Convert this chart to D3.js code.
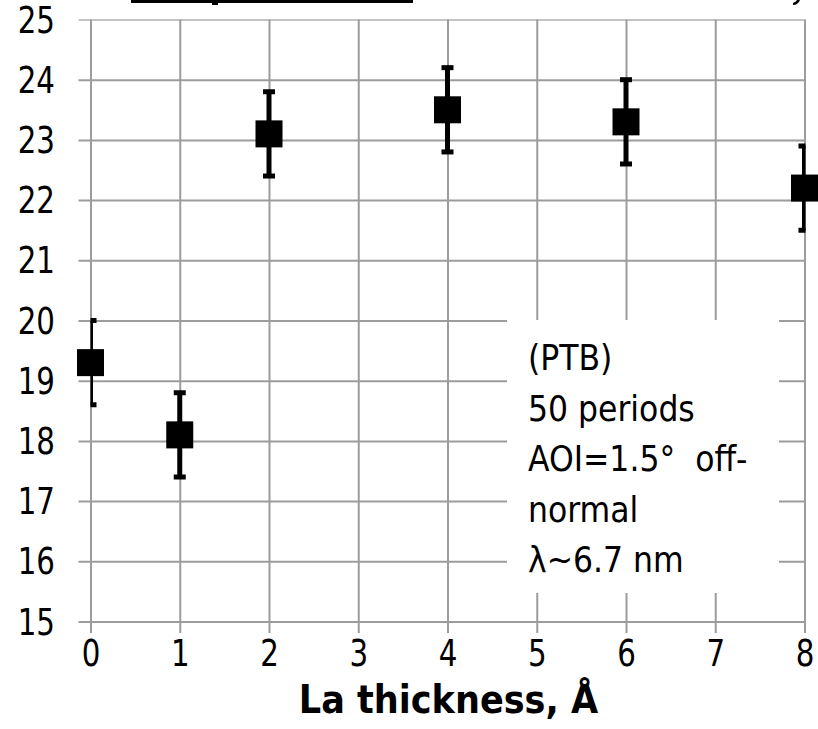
<!DOCTYPE html>
<html>
<head>
<meta charset="utf-8">
<script src="https://cdn.jsdelivr.net/npm/d3@7"></script>
<style>
  html, body { margin: 0; padding: 0; background: #fff; }
  svg { display: block; }
  text { font-family: "DejaVu Sans Condensed", "DejaVu Sans", sans-serif; fill: #000; }
</style>
</head>
<body>
<svg id="chart" width="818" height="729"></svg>
<script>
// La thickness (Å) of each sample and its measured value with uncertainty
const thickness = [0, 1, 2, 4, 6, 8];
const values    = [19.3, 18.1, 23.1, 23.5, 23.3, 22.2];
const errors    = [0.7, 0.7, 0.7, 0.7, 0.7, 0.7];

const xTickValues = [0, 1, 2, 3, 4, 5, 6, 7, 8];
const yTickValues = [15, 16, 17, 18, 19, 20, 21, 22, 23, 24, 25];

const xTitle = "La thickness, Å";
const noteLines = ["(PTB)", "50 periods", "AOI=1.5°  off-", "normal", "λ~6.7 nm"];

const svg = d3.select("#chart");

const plotLeft = 90.5, plotRight = 804.5, plotTop = 19.5, plotBottom = 621.5;
const x = d3.scaleLinear().domain([0, 8]).range([plotLeft, plotRight]);
const y = d3.scaleLinear().domain([15, 25]).range([plotBottom, plotTop]);

const grid = "#9c9c9c";
const tickFont = 37, tickSquash = 0.88;
const fontFamily = '"DejaVu Sans Condensed", "DejaVu Sans", sans-serif';

// Title underline remnant at the very top
const head = svg.append("g").attr("fill", "#000");
head.append("rect").attr("x", 131).attr("y", 0).attr("width", 282).attr("height", 3);
head.append("rect").attr("x", 212).attr("y", 0).attr("width", 6).attr("height", 5);
head.append("path").attr("d", "M800,0 Q798,5 793,5 L793,3 Q796,2 797,0 Z");

// Horizontal gridlines with left ticks and labels
const yPad = 23.5;
const yAxis = svg.append("g")
  .attr("transform", `translate(${plotLeft - 12},0)`)
  .call(d3.axisLeft(y).tickValues(yTickValues).tickFormat(d3.format("d"))
    .tickSizeInner(-(plotRight - plotLeft + 12)).tickSizeOuter(0).tickPadding(yPad));
yAxis.select(".domain").remove();
yAxis.selectAll(".tick line").attr("stroke", d => d === 25 ? "#c4c4c4" : grid).attr("stroke-width", 2);
yAxis.selectAll(".tick text")
  .attr("font-size", tickFont).attr("dy", "0.34em")
  .attr("x", -yPad / tickSquash)
  .attr("transform", `scale(${tickSquash},1)`)
  .attr("fill", "#000").style("font-family", fontFamily);

// Vertical gridlines with bottom ticks and labels
const xAxis = svg.append("g")
  .attr("transform", `translate(0,${plotBottom + 11.5})`)
  .call(d3.axisBottom(x).tickValues(xTickValues).tickFormat(d3.format("d"))
    .tickSizeInner(-(plotBottom + 11.5 - plotTop)).tickSizeOuter(0).tickPadding(7));
xAxis.select(".domain").remove();
xAxis.selectAll(".tick line").attr("stroke", grid).attr("stroke-width", 2);
xAxis.selectAll(".tick text")
  .attr("font-size", tickFont)
  .attr("transform", `scale(${tickSquash},1)`)
  .attr("fill", "#000").style("font-family", fontFamily);

// Note box
const note = svg.append("g");
note.append("rect").attr("x", 507).attr("y", 320).attr("width", 272).attr("height", 273).attr("fill", "#fff");
note.selectAll("text").data(noteLines).join("text")
  .attr("x", 528)
  .attr("y", (d, i) => 370 + i * 50.5)
  .attr("font-size", 35)
  .style("white-space", "pre")
  .attr("xml:space", "preserve")
  .text(d => d);

// Error bars, clipped to the plot area
svg.append("defs").append("clipPath").attr("id", "plotClip")
  .append("rect").attr("x", plotLeft).attr("y", 0).attr("width", plotRight - plotLeft + 1).attr("height", 729);

const pts = thickness.map((t, i) => ({ t, v: values[i], e: errors[i] }));
const bars = svg.append("g").attr("clip-path", "url(#plotClip)")
  .attr("stroke", "#000").attr("stroke-width", 5);
bars.selectAll("line.stem").data(pts).join("line").attr("class", "stem")
  .attr("x1", d => x(d.t)).attr("x2", d => x(d.t))
  .attr("y1", d => y(d.v + d.e)).attr("y2", d => y(d.v - d.e));
bars.selectAll("line.capTop").data(pts).join("line").attr("class", "capTop")
  .attr("x1", d => x(d.t) - 6).attr("x2", d => x(d.t) + 6)
  .attr("y1", d => y(d.v + d.e)).attr("y2", d => y(d.v + d.e));
bars.selectAll("line.capBot").data(pts).join("line").attr("class", "capBot")
  .attr("x1", d => x(d.t) - 6).attr("x2", d => x(d.t) + 6)
  .attr("y1", d => y(d.v - d.e)).attr("y2", d => y(d.v - d.e));

// Square markers
const size = 27;
svg.append("g").selectAll("rect").data(pts).join("rect")
  .attr("x", d => x(d.t) - size / 2).attr("y", d => y(d.v) - size / 2)
  .attr("width", size).attr("height", size).attr("fill", "#000");

// X axis title
svg.append("text")
  .attr("x", (plotLeft + plotRight) / 2 + 1).attr("y", 713)
  .attr("text-anchor", "middle")
  .attr("font-size", 39).attr("font-weight", "bold")
  .text(xTitle);
</script>
</body>
</html>
